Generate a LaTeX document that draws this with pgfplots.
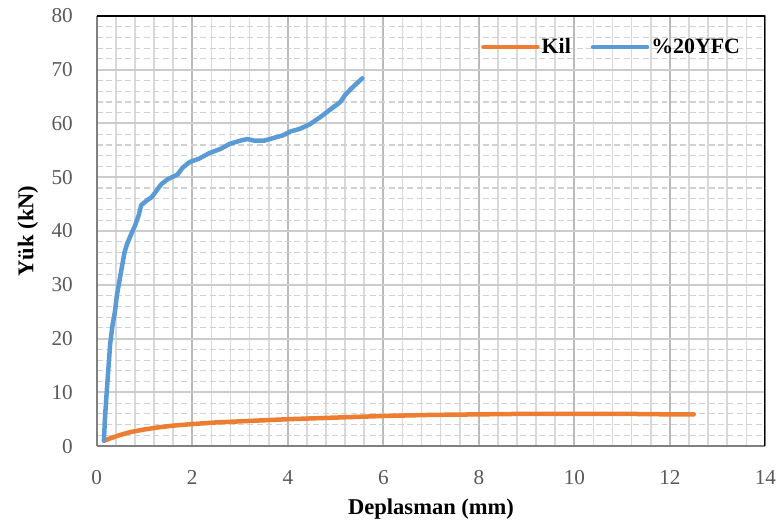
\documentclass[border=0pt]{standalone}
\usepackage{fontspec}
\setmainfont{Liberation Serif}
\usepackage{pgfplots}
\pgfplotsset{compat=1.18}

\definecolor{kilorange}{HTML}{ED7D31}
\definecolor{yfcblue}{HTML}{5B9BD5}
\definecolor{ticktext}{HTML}{595959}

\begin{document}
\begin{tikzpicture}
\begin{axis}[
  name=ax,
  scale only axis,
  width=17.727cm, height=11.404cm,
  xmin=0, xmax=14, ymin=0, ymax=80,
  xtick={0,2,...,14}, ytick={0,10,...,80},
  minor x tick num=4, minor y tick num=4,
  axis lines=left,
  axis line style={draw=black!50, line width=1.5pt, -},
  tick style={draw=none},
  grid=both,
  major x grid style={draw=black!27, line width=1.5pt},
  major y grid style={draw=black!20, line width=1.5pt},
  minor x grid style={draw=black!15, line width=1.2pt},
  minor y grid style={draw=black!18, line width=0.8pt, dash pattern=on 4.5pt off 2.6pt},
  tick label style={font=\fontsize{16}{18}\selectfont, text=ticktext, inner sep=0pt},
  /pgf/number format/assume math mode=true,
  xticklabel style={anchor=center, yshift=-0.767cm},
  yticklabel style={anchor=east, xshift=-0.556cm},
  xlabel={\textbf{Deplasman (mm)}},
  ylabel={\textbf{Yük (kN)}},
  label style={font=\fontsize{17}{20}\selectfont},
  xlabel style={at={(rel axis cs:0.5,0)}, anchor=center, yshift=-1.667cm},
  ylabel style={at={(rel axis cs:0,0.5)}, anchor=center, yshift=1.826cm},
  legend columns=2,
  legend style={draw=none, fill=none, at={(0.5746,0.928)}, anchor=west,
    inner sep=0pt, nodes={inner sep=1.5pt},
    font=\fontsize{16.5}{19}\selectfont\bfseries,
    /tikz/every even column/.append style={column sep=13.6pt}},
  legend image code/.code={\draw[#1, line width=3.4pt] (0cm,0cm) -- (1.43cm,0cm);},
]
\addplot[kilorange, line width=3.4pt, line join=round, line cap=round] coordinates {
  (0.15,1.0) (0.3,1.5) (0.5,2.1) (0.7,2.6) (1.0,3.1) (1.3,3.5) (1.6,3.8)
  (2.0,4.1) (2.5,4.4) (3.0,4.6) (3.5,4.8) (4.0,5.0) (5.0,5.3) (6.0,5.6)
  (7.0,5.8) (8.0,5.9) (9.0,6.0) (10.0,6.0) (11.0,6.0) (12.0,5.9) (12.5,5.9)
};
\addlegendentry{Kil}
\addplot[yfcblue, line width=3.4pt, line join=round, line cap=round] coordinates {
  (0.15,1.0) (0.17,5) (0.20,9) (0.24,14) (0.28,19) (0.33,22.5) (0.38,25)
  (0.42,28) (0.47,30.5) (0.53,33.5) (0.58,36) (0.63,37.5) (0.70,39)
  (0.80,41) (0.88,43) (0.93,44.8) (1.05,45.7) (1.15,46.3) (1.25,47.5)
  (1.35,48.7) (1.48,49.6) (1.69,50.5) (1.80,51.8) (1.94,52.8) (2.15,53.5)
  (2.36,54.5) (2.60,55.3) (2.78,56.2) (3.0,56.8) (3.15,57.1) (3.30,56.8)
  (3.5,56.8) (3.7,57.3) (3.9,57.8) (4.05,58.5) (4.25,59.0) (4.45,59.8)
  (4.65,61.0) (4.80,62.0) (4.95,63.0) (5.10,64.0) (5.20,65.3) (5.33,66.5)
  (5.45,67.5) (5.56,68.4)
};
\addlegendentry{\%20YFC}
\draw[black, line width=1.5pt] (rel axis cs:0,1) -- (rel axis cs:1,1) -- (rel axis cs:1,0);
\end{axis}
\path ([xshift=-2.566cm,yshift=-2.090cm]ax.south west) rectangle ([xshift=0.238cm,yshift=0.423cm]ax.north east);
\end{tikzpicture}
\end{document}
